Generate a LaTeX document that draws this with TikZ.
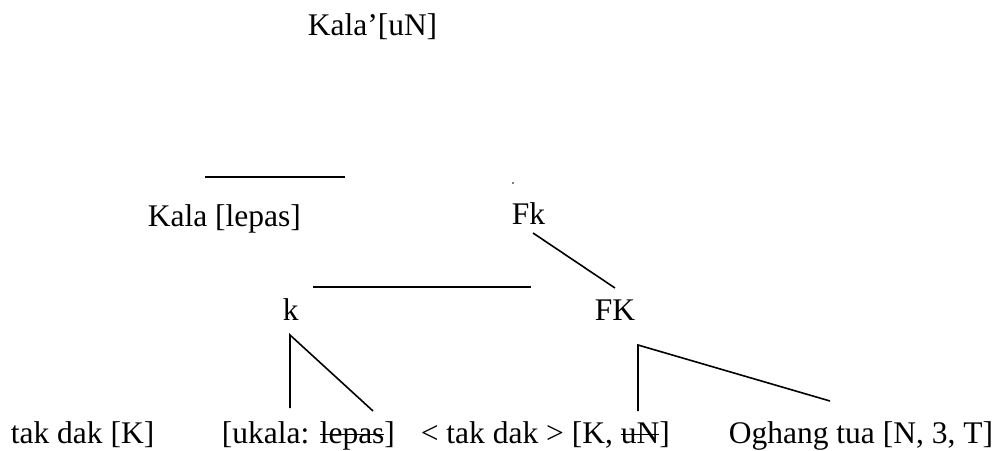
\documentclass[tikz,border=0pt]{standalone}
\usepackage{fontspec}
\setmainfont{Liberation Serif}
\usetikzlibrary{positioning}
\newcommand{\strk}[1]{\setbox0\hbox{#1}\rlap{\rule[0.24em]{\wd0}{1.6pt}}\box0}

\begin{document}
\begin{tikzpicture}[
  x=1pt, y=-1pt,
  every node/.style={inner sep=0, anchor=base west, font=\fontsize{31.5}{38}\selectfont},
  every path/.style={line width=1.6pt},
  lbl/.style={},
  ln/.style={draw, line cap=butt}
  ] %
    \useasboundingbox (0,0) rectangle (1001,450);
    % labels
    \node[lbl](root) at (307,35){Kala’[uN]};
    \node[lbl](kala) at (147,226){Kala [lepas]};
    \node[lbl](fk) at (511,224){Fk};
    \node[lbl](k) at (282,320){k};
    \node[lbl](fkk) at (594,320){FK};
    \node[lbl](takdak) at (10,443){tak dak [K]};
    \node[lbl](ukala) at (221,443){[ukala: \strk{lepas}]};
    \node[lbl](tdk) at (420,443){< tak dak > [K, \strk{uN}]};
    \node[lbl](oghang) at (728,443){Oghang tua [N, 3, T]};
    % line ends
    \coordinate (h1a) at (205,177);
    \coordinate (h1b) at (345,177);
    \coordinate (h2a) at (313,287);
    \coordinate (h2b) at (531,287);
    \coordinate (fkt) at (533,233);
    \coordinate (fkb) at (615,288);
    \coordinate (kt) at (290,335);
    \coordinate (kl) at (290,408);
    \coordinate (kr) at (373,411);
    \coordinate (ft) at (638,345);
    \coordinate (fl) at (638,411);
    \coordinate (fr) at (830,401);
    \draw[ln] (h1a) -- (h1b);
    \draw[ln] (h2a) -- (h2b);
    \draw[ln] (fkt) -- (fkb);
    \draw[ln] (kl) -- (kt) -- (kr);
    \draw[ln] (fl) -- (ft) -- (fr);
    \fill (513,183) circle (0.8);
  \end{tikzpicture}
\end{document}
